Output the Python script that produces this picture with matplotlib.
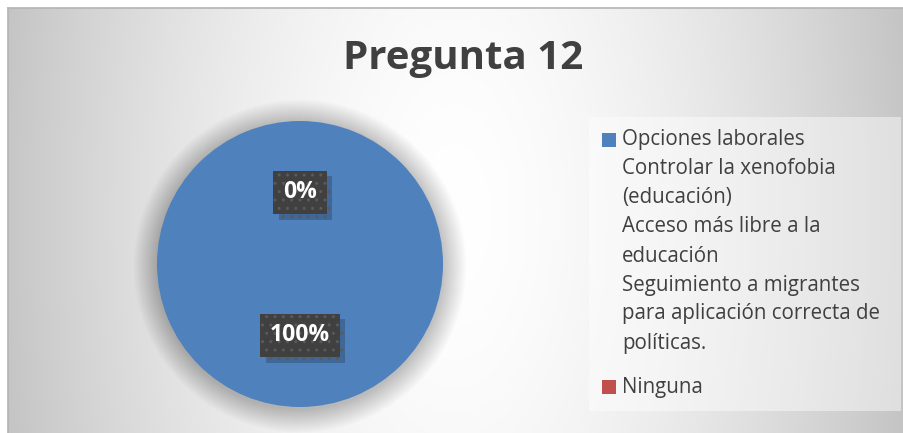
import numpy as np
import matplotlib
matplotlib.use("Agg")
import matplotlib.pyplot as plt
from matplotlib.patches import Rectangle, Circle
from matplotlib import patheffects

# ---------------- data ----------------
title = "Pregunta 12"
categories = [
    "Opciones laborales\nControlar la xenofobia\n(educación)\nAcceso más libre a la\neducación\nSeguimiento a migrantes\npara aplicación correcta de\npolíticas.",
    "Ninguna",
]
values = [100, 0]
colors = ["#4F81BD", "#C0504D"]

W, H = 904, 433
FONT = "Open Sans"
TXT = "#404040"

fig = plt.figure(figsize=(W / 100, H / 100), dpi=100)
fig.patch.set_facecolor("white")

# background axes in pixel coordinates
bg = fig.add_axes([0, 0, 1, 1])
bg.set_xlim(0, W)
bg.set_ylim(H, 0)
bg.axis("off")

# radial gradient chart area
x0, y0 = 8, 8
xs = np.linspace(x0, W, 400)
ys = np.linspace(y0, H, 200)
X, Y = np.meshgrid(xs, ys)
t = np.sqrt(((X - 455) / 447) ** 2 + ((Y - 216) / 900) ** 2)
b = 1 - 0.22 * np.clip(t, 0, 1.3) ** 1.6
img = np.dstack([b, b, b])
bg.imshow(img, extent=(x0, W, H, y0), aspect="auto", interpolation="bilinear", zorder=0)
bg.plot([x0, W], [y0, y0], color="#b4b4b4", lw=1.2, zorder=1)
bg.plot([x0, x0], [y0, H], color="#b4b4b4", lw=1.2, zorder=1)

# legend box (lighter panel)
bg.add_patch(Rectangle((589, 117), 312, 294, facecolor="white", alpha=0.45,
                       edgecolor="none", zorder=1))

# title
bg.text(463, 59, title, ha="center", va="center", fontsize=29, fontweight="bold",
        color=TXT, family=FONT, zorder=3)

# ---------------- pie ----------------
ax = fig.add_axes([157 / W, 26 / H, 286 / W, 286 / H])
ax.set_zorder(2)
ax.patch.set_alpha(0)

wedges, texts, autotexts = ax.pie(
    values, colors=colors, startangle=90, counterclock=False,
    autopct="%.0f%%", pctdistance=0.5, radius=1,
    wedgeprops=dict(linewidth=0),
    textprops=dict(color="white", fontsize=16.5, fontweight="bold", family=FONT),
)
ax.set_xlim(-1, 1)
ax.set_ylim(-1, 1)
ax.set_aspect("equal")
ax.axis("off")

# soft shadow around the pie
n = 30
for k in range(n):
    ax.add_patch(Circle((0, -0.015), 1 + 0.0055 * (n - k), facecolor="black",
                        edgecolor="none", alpha=0.008, zorder=0, clip_on=False))
for w in wedges:
    w.set_zorder(1)

for at in autotexts:
    at.set_zorder(5)
    at.set_bbox(dict(boxstyle="square,pad=0.42", facecolor="#404040",
                     edgecolor="#5a5a5a", linewidth=0, hatch=".."))
    at.get_bbox_patch().set_path_effects([
        patheffects.SimplePatchShadow(offset=(4, -4), shadow_rgbFace="black", alpha=0.2),
        patheffects.Normal(),
    ])

# ---------------- legend (drawn in pixel coords) ----------------
y = 140
for cat, col in zip(categories, colors):
    bg.add_patch(Rectangle((602, y - 7), 14, 14, facecolor=col, edgecolor="none", zorder=3))
    for line in cat.split("\n"):
        bg.text(622, y, line, ha="left", va="center", fontsize=14.8, color=TXT,
                family=FONT, zorder=3)
        y += 29
    y += 15

fig.savefig("out.png", dpi=100)
